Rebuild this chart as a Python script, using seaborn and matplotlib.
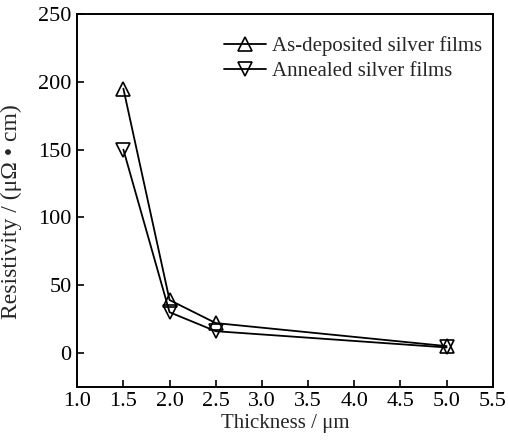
import numpy as np
import pandas as pd
import matplotlib
matplotlib.use("Agg")
import matplotlib.pyplot as plt
import seaborn as sns

# Resistivity vs film thickness
thickness = [1.5, 2.0, 2.5, 5.0]
as_deposited = [195, 39, 22, 5]
annealed = [150, 30, 16, 4]
x_ticks = [1.0, 1.5, 2.0, 2.5, 3.0, 3.5, 4.0, 4.5, 5.0, 5.5]
y_ticks = [0, 50, 100, 150, 200, 250]

df = pd.DataFrame({
    "Thickness": thickness * 2,
    "Resistivity": as_deposited + annealed,
    "Sample": ["As-deposited silver films"] * 4 + ["Annealed silver films"] * 4,
})

sns.set_theme(style="ticks")
plt.rcParams["font.family"] = ["Liberation Serif", "DejaVu Serif"]

fig, ax = plt.subplots(figsize=(5.08, 4.42), dpi=100)
sns.lineplot(data=df, x="Thickness", y="Resistivity", hue="Sample", style="Sample",
             markers={"As-deposited silver films": "^", "Annealed silver films": "v"},
             dashes=False, palette=["black", "black"], markersize=10,
             markerfacecolor="none", markeredgecolor="black", markeredgewidth=1.2,
             linewidth=1.3, ax=ax)

ax.set_xlim(1.0, 5.5)
ax.set_ylim(-25, 250)
ax.set_xticks(x_ticks)
ax.set_yticks(y_ticks)
ax.set_xticklabels([f"{v:.1f}" for v in x_ticks])
ax.tick_params(direction="in", length=5, width=1.2, labelsize=16, colors="black", pad=4)
for s in ax.spines.values():
    s.set_linewidth(1.4)
    s.set_color("black")

ax.set_xlabel("Thickness / μm", fontsize=15, labelpad=2)
ax.set_ylabel("Resistivity / (μΩ • cm)", fontsize=17)
ax.yaxis.set_label_coords(-0.132, 0.47)

leg = ax.legend(loc="upper right", frameon=False, fontsize=15, handlelength=2.0,
                borderaxespad=0.0, labelspacing=0.25, handletextpad=0.3,
                borderpad=0.0, bbox_to_anchor=(0.975, 0.94))
for h in leg.legend_handles:
    h.set_markerfacecolor("none")
    h.set_markeredgecolor("black")

fig.subplots_adjust(left=0.152, right=0.97, top=0.968, bottom=0.125)
fig.savefig("out.png", dpi=100)
